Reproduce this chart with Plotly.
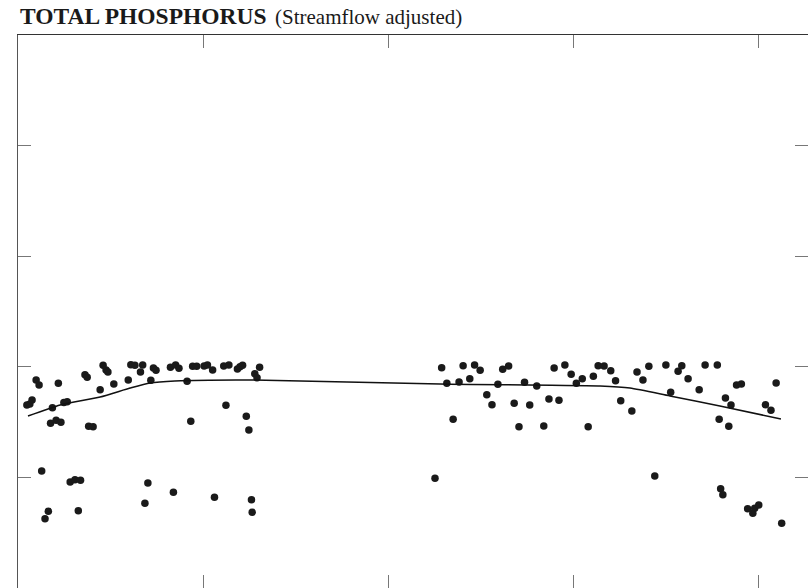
import plotly.graph_objects as go

# Sample dates (decimal years) and streamflow-adjusted concentrations
sample_year = [
    1990.24, 1990.32, 1990.38, 1990.49, 1990.57, 1990.64, 1990.73, 1990.82, 1990.88, 1990.93,
    1991.03, 1991.16, 1991.09, 1991.24, 1991.33, 1991.41, 1991.54, 1991.69, 1991.63, 1991.81,
    1991.87, 1991.91, 1992.03, 1992.22, 1992.30, 1992.38, 1992.43, 1992.59, 1992.98, 1993.05,
    1993.16, 1993.31, 1993.37, 1993.59, 1993.66, 1993.73, 1993.51, 1993.43, 1994.12, 1994.26,
    1994.35, 1994.20, 1994.57, 1994.67, 1994.72, 1994.83, 1995.03, 1995.12, 1995.26, 1995.31,
    1995.56, 1995.70, 1995.62, 1995.93, 1996.00, 1996.07, 1996.17, 1996.24, 1996.31, 1996.33,
    1996.40, 1996.46, 1996.53,
    2001.27, 2001.45, 2001.59, 2001.76, 2001.92, 2002.03, 2002.21, 2002.34, 2002.49, 2002.67,
    2002.81, 2002.97, 2003.10, 2003.26, 2003.41, 2003.54, 2003.69, 2003.83, 2004.02, 2004.21,
    2004.35, 2004.49, 2004.62, 2004.78, 2004.95, 2005.09, 2005.25, 2005.41, 2005.55, 2005.68,
    2005.84, 2006.02, 2006.15, 2006.29, 2006.59, 2006.73, 2006.89, 2007.05, 2007.21, 2007.51,
    2007.64, 2007.84, 2007.94, 2008.11, 2008.41, 2008.57, 2008.90, 2008.95, 2008.99, 2009.05,
    2009.12, 2009.21, 2009.27, 2009.42, 2009.55, 2009.72, 2009.86, 2009.91, 2010.02, 2010.20,
    2010.35, 2010.49, 2010.64,
]
sample_value = [
    1.655, 1.664, 1.700, 1.881, 1.835, 1.058, 0.627, 0.693, 1.489, 1.630,
    1.516, 1.498, 1.851, 1.677, 1.684, 0.958, 0.979, 0.974, 0.699, 1.929,
    1.905, 1.462, 1.458, 1.793, 2.014, 1.971, 1.953, 1.844, 1.881, 2.019,
    2.014, 1.953, 2.016, 1.878, 1.989, 1.968, 0.949, 0.766, 1.995, 2.016,
    1.986, 0.865, 1.869, 1.507, 2.004, 2.004, 2.007, 2.016, 1.971, 0.820,
    2.007, 2.016, 1.652, 1.980, 2.001, 2.014, 1.552, 1.429, 0.798, 0.684,
    1.938, 1.901, 1.995,
    0.992, 1.992, 1.851, 1.525, 1.863, 2.010, 1.892, 2.016, 1.968, 1.748,
    1.657, 1.842, 1.977, 2.007, 1.670, 1.458, 1.860, 1.655, 1.826, 1.465,
    1.709, 1.989, 1.697, 2.016, 1.932, 1.851, 1.892, 1.458, 1.914, 2.010,
    2.007, 1.965, 1.874, 1.693, 1.600, 1.953, 1.881, 2.004, 1.013, 2.016,
    1.769, 1.959, 2.010, 1.892, 1.793, 2.016, 2.016, 1.525, 0.898, 0.844,
    1.718, 1.462, 1.655, 1.835, 1.844, 0.717, 0.675, 0.721, 0.750, 1.657,
    1.607, 1.854, 0.585,
]

# Smoothed trend
trend_year = [1990.27, 1991.14, 1992.22, 1993.03, 1993.57, 1994.24, 1996.27,
              2001.41, 2005.73, 2006.54, 2007.62, 2008.97, 2010.62]
trend_value = [1.555, 1.655, 1.727, 1.808, 1.854, 1.872, 1.881,
               1.844, 1.826, 1.808, 1.736, 1.646, 1.528]

x_ticks = [1995, 2000, 2005, 2010]
y_ticks = [1, 2, 3, 4]
x_range = [1990, 2011.351]
y_range = [0, 5]

title_main = "TOTAL PHOSPHORUS"
title_sub = "(Streamflow adjusted)"

fig = go.Figure()
fig.add_trace(go.Scatter(
    x=sample_year, y=sample_value, mode="markers",
    marker=dict(color="#1a1a1a", size=7.5, line=dict(width=0)),
    showlegend=False, hoverinfo="skip",
))
fig.add_trace(go.Scatter(
    x=trend_year, y=trend_value, mode="lines",
    line=dict(color="#111111", width=1.5, shape="spline", smoothing=0.6),
    showlegend=False, hoverinfo="skip",
))
fig.add_trace(go.Scatter(x=[], y=[], xaxis="x2", yaxis="y2", showlegend=False))

common = dict(showgrid=False, zeroline=False, showticklabels=False,
              ticks="inside", ticklen=13, tickwidth=1, tickcolor="#777777")

fig.update_layout(
    width=808, height=588,
    margin=dict(l=18, r=0, t=35, b=0),
    paper_bgcolor="white", plot_bgcolor="white",
    xaxis=dict(range=x_range, side="top", tickvals=x_ticks, showline=True,
               linecolor="#333333", linewidth=1, **common),
    yaxis=dict(range=y_range, side="left", tickvals=y_ticks, showline=True,
               linecolor="#555555", linewidth=1, **common),
    xaxis2=dict(range=x_range, overlaying="x", side="bottom", tickvals=x_ticks,
                showline=False, **common),
    yaxis2=dict(range=y_range, overlaying="y", side="right", tickvals=y_ticks,
                showline=False, **common),
)

fig.add_annotation(
    text="<b>" + title_main + "</b>", xref="paper", yref="paper",
    x=0, y=1, xanchor="left", yanchor="bottom", xshift=-0.5, yshift=4, showarrow=False,
    font=dict(family="Liberation Serif", size=23.5, color="#1a1a1a"),
)
fig.add_annotation(
    text=title_sub, xref="paper", yref="paper",
    x=(275 - 18) / 790, y=1, xanchor="left", yanchor="bottom", xshift=-2, yshift=4,
    showarrow=False,
    font=dict(family="Liberation Serif", size=21, color="#1a1a1a"),
)

fig.write_html(
    "out.html",
    config={"displayModeBar": False, "staticPlot": True},
    post_script=(
        "document.documentElement.style.margin='0';"
        "document.documentElement.style.overflow='hidden';"
        "document.body.style.margin='0';"
        "document.body.style.overflow='hidden';"
    ),
)
